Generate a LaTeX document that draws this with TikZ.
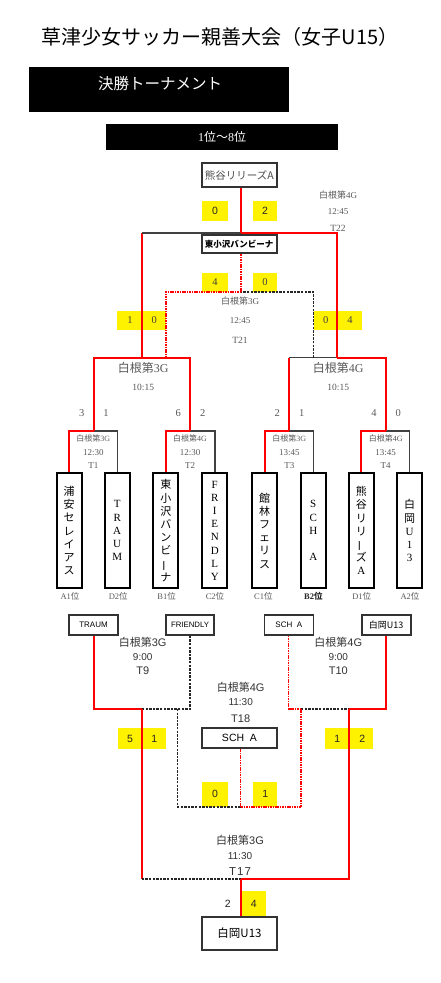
\documentclass[tikz,border=0pt]{standalone}
\usepackage{fontspec}
\setmainfont{Liberation Serif}
\setsansfont{Liberation Sans}
\newfontfamily\jp{Noto Sans CJK JP}
\usepackage{graphicx}
\newcommand\vbar{\rotatebox[origin=c]{90}{ー}}
\newcommand\fs[1]{\fontsize{#1}{#1}\selectfont}
\newcommand\jpf{\jp\fontsize{11}{13.2}\selectfont}
\newcommand\rmf{\rmfamily\fontsize{11}{13.2}\selectfont}
\tikzset{
 redl/.style={draw=red,line width=2pt},
 blkl/.style={draw=black!75,line width=1.4pt},
 redd/.style={draw=red,line width=1.1pt,dash pattern=on 1.6pt off 0.8pt},
 blkd/.style={draw=black!85,line width=1.1pt,dash pattern=on 2.4pt off 1.2pt},
 ybox/.style={fill=yellow,inner sep=0pt},
 tbox/.style={draw=black,line width=2.2pt,fill=white,minimum width=25pt,minimum height=115pt,inner sep=0pt,align=center},
 box/.style={draw=black!80,line width=1.6pt,fill=white,inner sep=0pt},
 lbl/.style={text=black!65,inner sep=0pt},
 lbs/.style={text=black!80,inner sep=0pt,font=\sffamily},
}
\begin{document}
\begin{tikzpicture}[x=1pt,y=-1pt]
\useasboundingbox (0,0) rectangle (440,983);
\fill[white] (0,0) rectangle (440,983);

% ---------- header
\node[font=\jp\fs{20},inner sep=0pt] (title) at (220,37) {草津少女サッカー親善大会（女子U15）};
\node[fill=black,minimum width=260pt,minimum height=45pt,inner sep=0pt] (hdr) at (159,89.5) {};
\node[text=white,font=\jp\fs{15.5},inner sep=0pt] (hdrtxt) at (160,84) {決勝トーナメント};
\node[fill=black,minimum width=232pt,minimum height=26pt,inner sep=0pt,text=white,font=\fs{12}] (rank) at (222,137) {1{\jp 位～}8{\jp 位}};

% ---------- yellow score boxes
\node[ybox,minimum width=26pt,minimum height=20pt] (y1) at (215,211) {};
\node[ybox,minimum width=24pt,minimum height=20pt] (y2) at (265,211) {};
\node[ybox,minimum width=26pt,minimum height=19pt] (y3) at (215,282) {};
\node[ybox,minimum width=24pt,minimum height=19pt] (y4) at (265,282) {};
\node[ybox,minimum width=49pt,minimum height=19.5pt] (y5) at (141.6,320.4) {};
\node[ybox,minimum width=48pt,minimum height=19.5pt] (y6) at (337.8,320.4) {};
\node[ybox,minimum width=48.5pt,minimum height=21pt] (y7) at (141.8,738.6) {};
\node[ybox,minimum width=48.5pt,minimum height=21pt] (y8) at (349.2,738.6) {};
\node[ybox,minimum width=25.5pt,minimum height=25pt] (y9) at (215,794.2) {};
\node[ybox,minimum width=24pt,minimum height=25pt] (y10) at (265.3,794.2) {};
\node[ybox,minimum width=24pt,minimum height=26pt] (y11) at (253.7,903.8) {};

% ---------- junction coordinates
\coordinate (f) at (241,233);
\coordinate (tp) at (241,292);
\coordinate (s1) at (141.7,357.7);
\coordinate (s2) at (337,357.7);
\coordinate (a) at (166,357.7);
\coordinate (b) at (313.3,357.7);
\coordinate (j1) at (94,431);
\coordinate (j2) at (190,431);
\coordinate (j3) at (289.3,431);
\coordinate (j4) at (385.7,431);
\coordinate (k1) at (141.7,709);
\coordinate (k2) at (349,709);
\coordinate (m1) at (177.7,709);
\coordinate (m2) at (301,709);
\coordinate (m) at (240.7,807);
\coordinate (n) at (240.7,879);

% ---------- team boxes
\node[tbox,font=\jpf] (t1) at (69.2,530.7) {浦\\安\\セ\\レ\\イ\\ア\\ス};
\node[tbox,font=\rmf] (t2) at (117.2,530.7) {T\\R\\A\\U\\M};
\node[tbox,font=\jpf] (t3) at (165.8,530.7) {東\\小\\沢\\バ\\ン\\ビ\\\vbar\\ナ};
\node[tbox,font=\rmf] (t4) at (214.8,530.7) {F\\R\\I\\E\\N\\D\\L\\Y};
\node[tbox,font=\jpf] (t5) at (264.7,530.7) {館\\林\\フ\\ェ\\リ\\ス};
\node[tbox,font=\rmf] (t6) at (313.3,530.7) {S\\C\\H\\\mbox{}\\A};
\node[tbox,font=\jpf] (t7) at (361.3,530.7) {熊\\谷\\リ\\リ\\\vbar\\ズ\\{\rmfamily A}};
\node[tbox,font=\jpf] (t8) at (409.7,530.7) {白\\岡\\{\rmfamily U}\\{\rmfamily 1}\\{\rmfamily 3}};

% ---------- top boxes
\node[box,minimum width=75pt,minimum height=24.5pt,font=\jp\fs{10.5},text=black!70] (champ) at (239.2,175) {熊谷リリーズA};
\node[box,minimum width=75pt,minimum height=18.5pt,font=\jp\bfseries\fs{8.5}] (third) at (239.2,244) {東小沢バンビーナ};

% ---------- lower boxes
\node[box,minimum width=48.5pt,minimum height=20pt,font=\sffamily\fs{8}] (lb1) at (93.5,625) {TRAUM};
\node[box,minimum width=48.5pt,minimum height=20pt,font=\sffamily\fs{7.8}] (lb2) at (190,625) {FRIENDLY};
\node[box,minimum width=49pt,minimum height=20pt,font=\sffamily\fs{8}] (lb3) at (288.8,625) {SCH\ \ A};
\node[box,minimum width=49pt,minimum height=20pt,font=\jp\fs{9}] (lb4) at (386.2,625) {白岡U13};
\node[box,minimum width=75.5pt,minimum height=20.5pt,font=\sffamily\fs{10.5}] (fifth) at (239.5,738) {SCH\ \ A};
\node[box,minimum width=75.5pt,minimum height=33.5pt,font=\jp\fs{11.5}] (win) at (239.5,933.5) {白岡U13};

% ---------- first round brackets
\draw[redl] (t1.north) |- (j1);
\draw[blkl] (t2.north) |- (j1);
\draw[redl] (t3.north) |- (j2);
\draw[blkl] (t4.north) |- (j2);
\draw[redl] (t5.north) |- (j3);
\draw[blkl] (t6.north) |- (j3);
\draw[redl] (t7.north) |- (j4);
\draw[blkl] (t8.north) |- (j4);

% ---------- semifinals
\draw[redl] (j1) |- (s1);
\draw[redl] (j2) |- (s1);
\draw[redl] (j3) -- (j3 |- s2);
\draw[blkl] (j3 |- s2) -- (s2);
\draw[redl] (j4) |- (s2);

% ---------- final
\draw[redl] (s1) -- (s1 |- f);
\draw[blkl] (s1 |- f) -- (f);
\draw[redl] (s2) |- (f);
\draw[redl] (f) -- (f |- champ.south);

% ---------- third place
\draw[redd] (a) |- (tp);
\draw[blkd] (b) |- (tp);
\draw[redd] (tp) -- (tp |- third.south);

% ---------- lower: T9, T10
\draw[redl] (lb1.south) |- (k1);
\draw[blkd] (lb2.south) |- (k1);
\draw[redd] (lb3.south) |- (m2);
\draw[blkd] (m2) -- (k2);
\draw[redl] (lb4.south) |- (k2);

% ---------- T18
\draw[blkd] (m1) |- (m);
\draw[redd] (m2) |- (m);
\draw[redd] (m) -- (m |- fifth.south);

% ---------- T17
\draw[redl] (k1) -- (k1 |- n);
\draw[blkd] (k1 |- n) -- (n);
\draw[redl] (k2) |- (n);
\draw[redl] (n) -- (n |- win.north);

% ---------- score texts
\node[font=\sffamily\fs{10.5},text=black!85] (sc1) at (y1) {0};
\node[font=\sffamily\fs{10.5},text=black!85] (sc2) at (y2) {2};
\node[font=\fs{10.5},text=black!75] (sc3) at (y3) {4};
\node[font=\fs{10.5},text=black!75] (sc4) at (y4) {0};
\node[font=\fs{10.5},text=black!75] (sc5) at (130,320.4) {1};
\node[font=\fs{10.5},text=black!75] (sc6) at (154.3,320.4) {0};
\node[font=\fs{10.5},text=black!75] (sc7) at (325.7,320.4) {0};
\node[font=\fs{10.5},text=black!75] (sc8) at (350,320.4) {4};
\node[font=\sffamily\fs{10.5},text=black!85] (sc9) at (130,738.6) {5};
\node[font=\sffamily\fs{10.5},text=black!85] (sc10) at (154.3,738.6) {1};
\node[font=\sffamily\fs{10.5},text=black!85] (sc11) at (337.3,738.6) {1};
\node[font=\sffamily\fs{10.5},text=black!85] (sc12) at (362.3,738.6) {2};
\node[font=\sffamily\fs{10.5},text=black!85] (sc13) at (y9) {0};
\node[font=\sffamily\fs{10.5},text=black!85] (sc14) at (y10) {1};
\node[font=\sffamily\fs{10.5},text=black!85] (sc15) at (y11) {4};
\node[font=\sffamily\fs{10.5},text=black!85] (sc16) at (227.7,904) {2};

\foreach \x/\s [count=\i] in {81.7/3,106/1,178.3/6,202.7/2,277.3/2,301.7/1,374/4,398.3/0}
  \node[lbl,font=\fs{10.5}] (r\i) at (\x,413.3) {\s};

% ---------- match labels (upper)
\node[lbl,font=\fs{9}] (l22a) at (338,195) {{\jp 白根第}4G};
\node[lbl,font=\fs{9}] (l22b) at (338,211.7) {12:45};
\node[lbl,font=\fs{9.5}] (l22c) at (338,228.3) {T22};
\node[lbl,font=\fs{9}] (l21a) at (240,301) {{\jp 白根第}3G};
\node[lbl,font=\fs{9}] (l21b) at (240,320.7) {12:45};
\node[lbl,font=\fs{9.5}] (l21c) at (240,340) {T21};
\node[lbl,font=\fs{12}] (ls1a) at (143.3,368.3) {{\jp 白根第}3G};
\node[lbl,font=\fs{9.5}] (ls1b) at (143.3,387.7) {10:15};
\node[lbl,font=\fs{12}] (ls2a) at (338.3,368.3) {{\jp 白根第}4G};
\node[lbl,font=\fs{9.5}] (ls2b) at (338.3,387.7) {10:15};

\foreach \x/\g/\tm/\tn [count=\i] in {93.3/3/12:30/T1,190/4/12:30/T2,289.3/3/13:45/T3,385.7/4/13:45/T4}{
  \node[lbl,font=\fs{8}] (fa\i) at (\x,438.3) {{\jp 白根第}\g G};
  \node[lbl,font=\fs{9}] (fb\i) at (\x,452.7) {\tm};
  \node[lbl,font=\fs{9}] (fc\i) at (\x,466) {\tn};
}

% ---------- rank labels below team boxes
\node[lbl,font=\fs{8.5}] (p1) at (70,596.7) {A1{\jp 位}};
\node[lbl,font=\fs{8.5}] (p2) at (118.3,596.7) {D2{\jp 位}};
\node[lbl,font=\fs{8.5}] (p3) at (166.7,596.7) {B1{\jp 位}};
\node[lbl,font=\fs{8.5}] (p4) at (215,596.7) {C2{\jp 位}};
\node[lbl,font=\fs{8.5}] (p5) at (263.3,596.7) {C1{\jp 位}};
\node[lbl,font=\bfseries\fs{8.5},text=black!85] (p6) at (313.3,596.7) {B2{\jp\bfseries 位}};
\node[lbl,font=\fs{8.5}] (p7) at (361.7,596.7) {D1{\jp 位}};
\node[lbl,font=\fs{8.5}] (p8) at (410,596.7) {A2{\jp 位}};

% ---------- match labels (lower)
\node[lbs,font=\sffamily\fs{11}] (l9a) at (142.7,642.7) {{\jp 白根第}3G};
\node[lbs,font=\sffamily\fs{10}] (l9b) at (142.7,656.7) {9:00};
\node[lbs,font=\sffamily\fs{11}] (l9c) at (142.7,671) {T9};
\node[lbs,font=\sffamily\fs{11}] (l10a) at (338.3,642.7) {{\jp 白根第}4G};
\node[lbs,font=\sffamily\fs{10}] (l10b) at (338.3,656.7) {9:00};
\node[lbs,font=\sffamily\fs{11}] (l10c) at (338.3,671) {T10};
\node[lbs,font=\sffamily\fs{11}] (l18a) at (240.7,687.3) {{\jp 白根第}4G};
\node[lbs,font=\sffamily\fs{10}] (l18b) at (240.7,702.3) {11:30};
\node[lbs,font=\sffamily\fs{11}] (l18c) at (240.7,718.3) {T18};
\node[lbs,font=\sffamily\fs{11}] (l17a) at (240,840) {{\jp 白根第}3G};
\node[lbs,font=\sffamily\fs{10}] (l17b) at (240,856) {11:30};
\node[lbs,font=\sffamily\fs{11.5}] (l17c) at (240,871.7) {T\kern1pt1\kern1pt7};
\end{tikzpicture}
\end{document}
